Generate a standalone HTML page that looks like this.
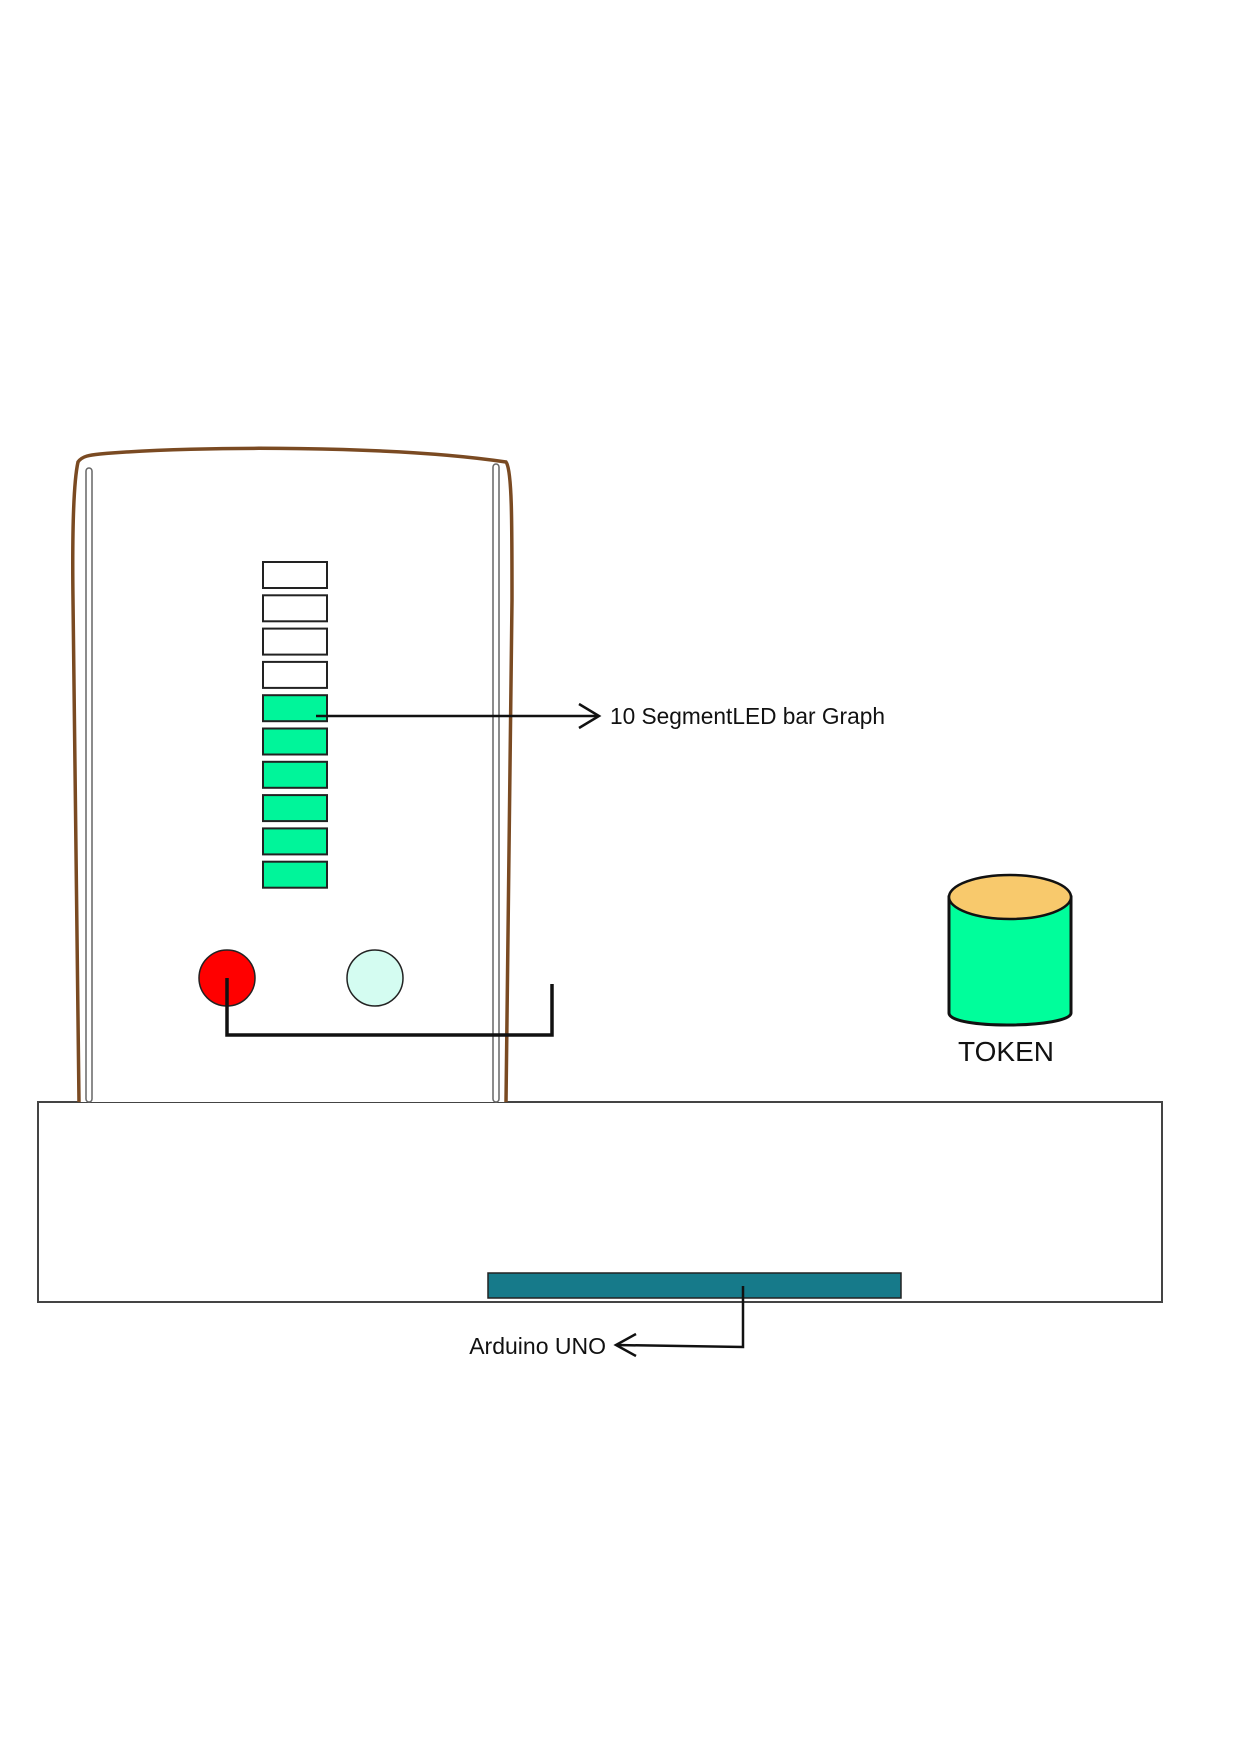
<!DOCTYPE html>
<html><head><meta charset="utf-8"><style>
html,body{margin:0;padding:0;background:#fff}
svg{display:block}
text{font-family:"Liberation Sans",sans-serif;fill:#111}
</style></head><body>
<svg width="1240" height="1754" viewBox="0 0 1240 1754">
<rect x="38" y="1111" width="1124" height="200" fill="#fff" stroke="#444" stroke-width="2" transform="translate(0,-9)"/>
<path d="M79 1102 C77 900 75 700 73 600 C72 520 74 480 78 462 C82 456 90 455 100 454 C200 445 400 446 506 462 C512 470 512 520 512 600 C511 800 507 1000 506 1102" fill="#fff" stroke="#7a4a22" stroke-width="3.5"/>
<rect x="86" y="468" width="6" height="634" rx="3" fill="#fff" stroke="#666" stroke-width="1.5"/>
<rect x="493" y="464" width="6" height="638" rx="3" fill="#fff" stroke="#666" stroke-width="1.5"/>
<g id="bars"></g>
<line x1="316" y1="716" x2="599" y2="716" stroke="#111" stroke-width="2.5"/>
<polyline points="579,704 599,716 579,728" fill="none" stroke="#111" stroke-width="2.5"/>
<text x="610" y="724" font-size="22.7">10 SegmentLED bar Graph</text>
<circle cx="227" cy="978" r="28" fill="#f00" stroke="#222" stroke-width="1.5"/>
<circle cx="375" cy="978" r="28" fill="#d4fcf1" stroke="#222" stroke-width="1.5"/>
<polyline points="227,978 227,1035 552,1035 552,984" fill="none" stroke="#111" stroke-width="3.5"/>
<path d="M949 1013 L949 897 L1071 897 L1071 1013 C1071 1028 949 1030 949 1013 Z" fill="#00fe9b" stroke="#111" stroke-width="3"/>
<ellipse cx="1010" cy="897" rx="61" ry="22" fill="#f8c96c" stroke="#111" stroke-width="2.5"/>
<text x="1006" y="1061" font-size="28" text-anchor="middle">TOKEN</text>
<rect x="488" y="1273" width="413" height="25" fill="#167a8a" stroke="#222" stroke-width="1.5"/>
<polyline points="743,1286 743,1347 616,1345" fill="none" stroke="#111" stroke-width="2.5"/>
<polyline points="636,1334 616,1345 636,1356" fill="none" stroke="#111" stroke-width="2.5"/>
<text x="606" y="1354" font-size="23" text-anchor="end">Arduino UNO</text>
</svg>
<script>
const segmentStates = [0,0,0,0,1,1,1,1,1,1];
const g = document.getElementById('bars');
segmentStates.forEach((on,i)=>{
  const r = document.createElementNS('http://www.w3.org/2000/svg','rect');
  r.setAttribute('x',263); r.setAttribute('y',562+i*33.3);
  r.setAttribute('width',64); r.setAttribute('height',26);
  r.setAttribute('fill', on ? '#00f59a' : '#fff');
  r.setAttribute('stroke','#222'); r.setAttribute('stroke-width','2');
  
  
  g.appendChild(r);
});
</script>
</body></html>
